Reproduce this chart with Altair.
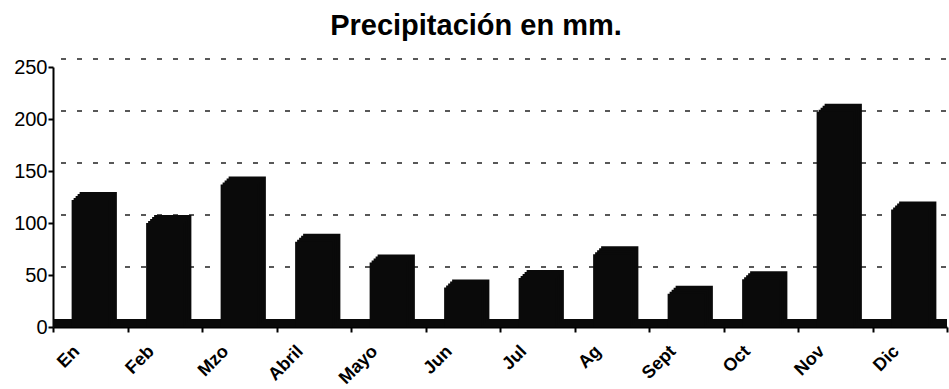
import altair as alt
import pandas as pd

# Monthly rainfall (mm)
months = ["En", "Feb", "Mzo", "Abril", "Mayo", "Jun", "Jul", "Ag", "Sept", "Oct", "Nov", "Dic"]
precip = [122, 100, 137, 82, 62, 38, 47, 70, 32, 46, 207, 113]
grid_values = [50, 100, 150, 200, 250]

W, H = 894, 260
DEPTH = 8  # pixel depth of the pseudo-3D bars and back wall

df = pd.DataFrame({"mes": months, "mm": precip})
grid_df = pd.DataFrame({"g": grid_values})

x_enc = alt.X(
    "mes:N",
    sort=months,
    scale=alt.Scale(paddingInner=0, paddingOuter=0),
    axis=alt.Axis(
        title=None,
        labelAngle=-45,
        labelAlign="right",
        labelBaseline="top",
        labelOffset=-20,
        labelPadding=10,
        labelFont="Liberation Sans",
        labelFontSize=18,
        labelFontWeight="bold",
        labelColor="#000",
        tickBand="extent",
        tickSize=5,
        tickWidth=2,
        tickColor="#000",
        domainColor="#000",
        domainWidth=2,
        grid=False,
    ),
)
y_scale = alt.Scale(domain=[0, 250], nice=False, zero=True)
y_axis = alt.Axis(
    title=None,
    values=[0, 50, 100, 150, 200, 250],
    labelFont="Liberation Sans",
    labelFontSize=20,
    labelColor="#000",
    labelPadding=1,
    tickSize=5,
    tickWidth=2,
    tickColor="#000",
    domainColor="#000",
    domainWidth=2,
    grid=False,
)
y_enc = alt.Y("mm:Q", scale=y_scale, axis=y_axis)

# Dashed gridlines on the back wall
grid = alt.Chart(grid_df).mark_rule(
    color="#222", strokeWidth=1.5, strokeDash=[5, 11], yOffset=-DEPTH
).encode(
    y=alt.Y("g:Q", scale=y_scale, axis=y_axis),
    x=alt.value(DEPTH),
    x2=alt.value(W),
)

# Floor of the 3D box
floor = alt.Chart(grid_df).mark_rule(
    color="#0a0a0a", strokeWidth=DEPTH, yOffset=-DEPTH / 2
).encode(
    y=alt.datum(0, scale=y_scale),
    x=alt.value(0),
    x2=alt.value(W),
)

# Stacked offset copies build up the depth of each column
bar_layers = []
for k in range(DEPTH, -1, -2):
    bar_layers.append(
        alt.Chart(df).mark_bar(
            color="#0a0a0a",
            width=alt.RelativeBandSize(0.5),
            xOffset=k,
            yOffset=-k,
        ).encode(x=x_enc, y=y_enc)
    )

chart = alt.layer(grid, floor, *bar_layers).properties(
    width=W,
    height=H,
    title=alt.TitleParams(
        "Precipitación en mm.",
        font="Liberation Sans",
        fontSize=29,
        fontWeight="bold",
        color="#000",
        anchor="middle",
        dx=-24,
        offset=16,
    ),
    autosize=alt.AutoSizeParams(type="none"),
    padding={"left": 53, "top": 67, "right": 2, "bottom": 62},
).configure(background="white", view=alt.ViewConfig(stroke=None))

chart.save("out.html", embed_options={"renderer": "svg", "actions": False})
